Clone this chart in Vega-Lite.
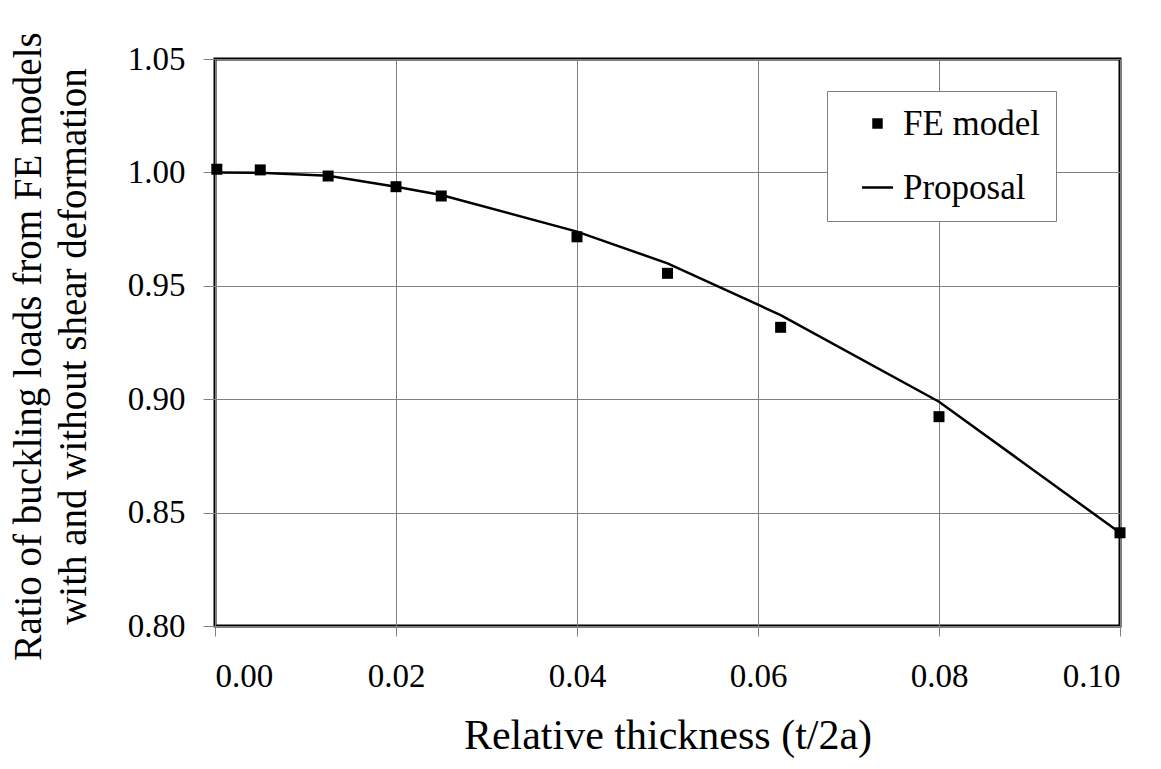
{
  "$schema": "https://vega.github.io/schema/vega-lite/v6.json",
  "width": 905,
  "height": 567,
  "autosize": {"type": "none"},
  "padding": {"left": 215, "top": 59, "right": 41, "bottom": 143},
  "background": "white",
  "config": {
    "font": "Liberation Serif",
    "view": {"stroke": "black", "strokeWidth": 3}
  },
  "datasets": {
    "fe": [
      {"x": 0.0002, "y": 1.0014, "series": "FE model"},
      {"x": 0.005, "y": 1.0011, "series": "FE model"},
      {"x": 0.0125, "y": 0.9984, "series": "FE model"},
      {"x": 0.02, "y": 0.9937, "series": "FE model"},
      {"x": 0.025, "y": 0.9896, "series": "FE model"},
      {"x": 0.04, "y": 0.9716, "series": "FE model"},
      {"x": 0.05, "y": 0.9555, "series": "FE model"},
      {"x": 0.0625, "y": 0.9317, "series": "FE model"},
      {"x": 0.08, "y": 0.8923, "series": "FE model"},
      {"x": 0.1, "y": 0.8411, "series": "FE model"}
    ],
    "proposal": [
      {"x": 0.0, "y": 1.0, "series": "Proposal"},
      {"x": 0.005, "y": 0.9998, "series": "Proposal"},
      {"x": 0.0125, "y": 0.9985, "series": "Proposal"},
      {"x": 0.02, "y": 0.9937, "series": "Proposal"},
      {"x": 0.025, "y": 0.99, "series": "Proposal"},
      {"x": 0.04, "y": 0.9739, "series": "Proposal"},
      {"x": 0.05, "y": 0.9599, "series": "Proposal"},
      {"x": 0.0625, "y": 0.9371, "series": "Proposal"},
      {"x": 0.08, "y": 0.8989, "series": "Proposal"},
      {"x": 0.1, "y": 0.8411, "series": "Proposal"}
    ]
  },
  "encoding": {
    "x": {
      "field": "x",
      "type": "quantitative",
      "scale": {"domain": [0, 0.1], "nice": false, "zero": false},
      "axis": {
        "values": [0, 0.02, 0.04, 0.06, 0.08, 0.1],
        "format": ".2f",
        "domain": false,
        "grid": true,
        "gridColor": "#808080",
        "gridWidth": 1,
        "gridOpacity": 1,
        "tickColor": "#808080",
        "tickWidth": 1,
        "tickSize": 10,
        "labelPadding": 24,
        "labelFont": "Liberation Serif",
        "labelFontSize": 33,
        "labelColor": "black",
        "title": "Relative thickness (t/2a)",
        "titleFont": "Liberation Serif",
        "titleFontSize": 42,
        "titleFontWeight": "normal",
        "titleColor": "black",
        "titlePadding": 22
      }
    },
    "y": {
      "field": "y",
      "type": "quantitative",
      "scale": {"domain": [0.8, 1.05], "nice": false, "zero": false},
      "axis": {
        "values": [0.8, 0.85, 0.9, 0.95, 1.0, 1.05],
        "format": ".2f",
        "domain": false,
        "grid": true,
        "gridColor": "#808080",
        "gridWidth": 1,
        "gridOpacity": 1,
        "tickColor": "#808080",
        "tickWidth": 1,
        "tickSize": 12,
        "labelPadding": 18,
        "labelFont": "Liberation Serif",
        "labelFontSize": 33,
        "labelColor": "black",
        "title": ["Ratio of buckling loads from  FE models", "with and without shear deformation"],
        "titleFont": "Liberation Serif",
        "titleFontSize": 39,
        "titleFontWeight": "normal",
        "titleColor": "black",
        "titleLineHeight": 45,
        "titlePadding": 34,
        "titleY": 287
      }
    },
    "color": {
      "field": "series",
      "type": "nominal",
      "scale": {"domain": ["FE model", "Proposal"], "range": ["black", "black"]},
      "legend": {
        "title": null,
        "orient": "none",
        "legendX": 612,
        "legendY": 32,
        "fillColor": "white",
        "strokeColor": "#808080",
        "padding": 15,
        "labelFontSize": 35,
        "labelFont": "Liberation Serif",
        "labelColor": "black",
        "labelOffset": 8,
        "symbolOffset": 18,
        "symbolSize": 961,
        "rowPadding": 28,
        "encode": {
          "symbols": {
            "update": {
              "shape": {"signal": "datum.value === 'Proposal' ? 'stroke' : 'square'"},
              "size": {"signal": "datum.value === 'Proposal' ? 961 : 110"},
              "fill": {"signal": "datum.value === 'Proposal' ? 'transparent' : 'black'"},
              "stroke": {"value": "black"},
              "strokeWidth": {"signal": "datum.value === 'Proposal' ? 2.5 : 0"},
              "opacity": {"value": 1},
              "fillOpacity": {"value": 1},
              "strokeOpacity": {"value": 1}
            }
          }
        }
      }
    }
  },
  "layer": [
    {
      "data": {"name": "proposal"},
      "mark": {"type": "line", "strokeWidth": 2.5, "clip": false}
    },
    {
      "data": {"name": "fe"},
      "mark": {"type": "point", "shape": "square", "filled": true, "size": 121, "opacity": 1, "clip": false}
    }
  ]
}
